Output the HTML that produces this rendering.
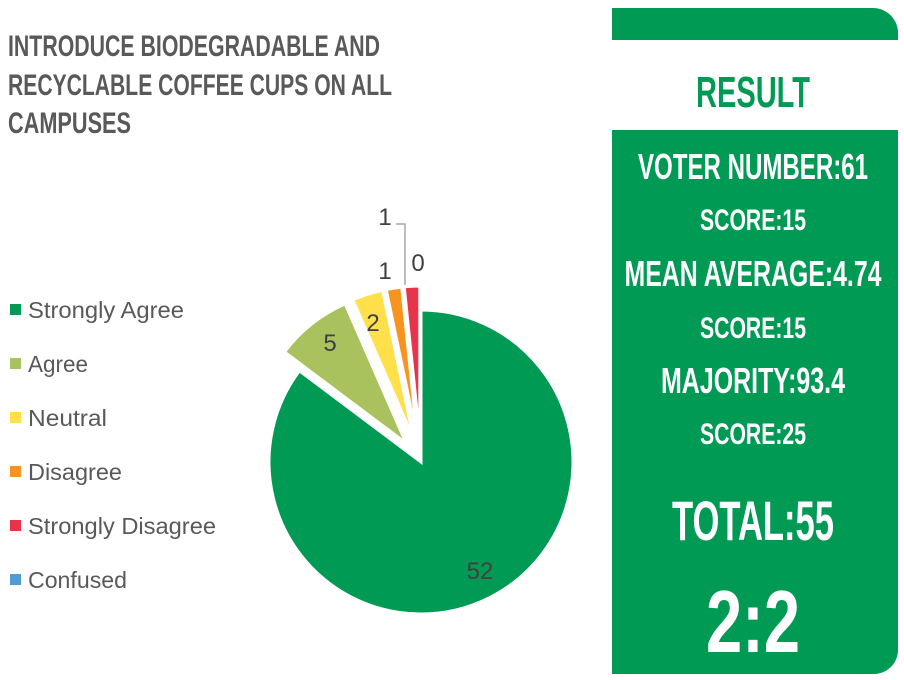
<!DOCTYPE html>
<html><head><meta charset="utf-8"><style>
html,body{margin:0;padding:0;background:#fff;}
svg{display:block;}
</style></head><body>
<svg width="904" height="680" viewBox="0 0 904 680" xmlns="http://www.w3.org/2000/svg">
<g font-family="Liberation Sans, sans-serif" font-weight="bold" fill="#595959" font-size="30">
<text x="8" y="56" textLength="372" lengthAdjust="spacingAndGlyphs">INTRODUCE BIODEGRADABLE AND</text>
<text x="8" y="95" textLength="384" lengthAdjust="spacingAndGlyphs">RECYCLABLE COFFEE CUPS ON ALL</text>
<text x="8" y="133" textLength="123" lengthAdjust="spacingAndGlyphs">CAMPUSES</text>
</g>
<g font-family="Liberation Sans, sans-serif" font-size="23" fill="#595959">
<rect x="10" y="304" width="11" height="11" fill="#009A55"/><text x="28" y="318" textLength="156" lengthAdjust="spacingAndGlyphs">Strongly Agree</text>
<rect x="10" y="358" width="11" height="11" fill="#A9C25D"/><text x="28" y="372" textLength="60" lengthAdjust="spacingAndGlyphs">Agree</text>
<rect x="10" y="412" width="11" height="11" fill="#FFE04B"/><text x="28" y="426" textLength="79" lengthAdjust="spacingAndGlyphs">Neutral</text>
<rect x="10" y="466" width="11" height="11" fill="#F7941D"/><text x="28" y="480" textLength="94" lengthAdjust="spacingAndGlyphs">Disagree</text>
<rect x="10" y="520" width="11" height="11" fill="#E8344A"/><text x="28" y="534" textLength="188" lengthAdjust="spacingAndGlyphs">Strongly Disagree</text>
<rect x="10" y="574" width="11" height="11" fill="#4E9BD5"/><text x="28" y="588" textLength="99" lengthAdjust="spacingAndGlyphs">Confused</text>
</g>
<g stroke="#fff" stroke-width="3" stroke-linejoin="miter">
<path d="M421,462 L421,310 A152,152 0 1 1 299.4,370.8 Z" fill="#009A55"/>
<path d="M406.1,443.2 L284.5,352.0 A152,152 0 0 1 345.2,303.9 Z" fill="#A9C25D"/>
<path d="M413.7,439.1 L352.8,299.8 A152,152 0 0 1 382.6,290.3 Z" fill="#FFE04B"/>
<path d="M417.3,438.3 L386.2,289.5 A152,152 0 0 1 401.7,287.1 Z" fill="#F7941D"/>
<path d="M419.8,438 L404.2,286.8 A152,152 0 0 1 419.8,286 Z" fill="#E8344A"/>
</g>
<polyline points="405,285 405,224 396,224" fill="none" stroke="#a6a6a6" stroke-width="1.5"/>
<g font-family="Liberation Sans, sans-serif" font-size="24" fill="#404040">
<text x="480" y="579" text-anchor="middle">52</text>
<text x="330" y="351" text-anchor="middle">5</text>
<text x="373" y="331" text-anchor="middle">2</text>
<text x="385" y="279" text-anchor="middle">1</text>
<text x="385" y="225" text-anchor="middle">1</text>
<text x="418" y="271" text-anchor="middle">0</text>
</g>
<path d="M612,8 H873 A25,25 0 0 1 898,33 V40 H612 Z" fill="#009A55"/>
<path d="M612,130 H898 V650 A24,24 0 0 1 874,674 H612 Z" fill="#009A55"/>
<g font-family="Liberation Sans, sans-serif" font-weight="bold" text-anchor="middle">
<text x="753" y="107" font-size="44" fill="#009A55" textLength="114" lengthAdjust="spacingAndGlyphs">RESULT</text>
<g fill="#fff">
<text x="753" y="179" font-size="36" textLength="230" lengthAdjust="spacingAndGlyphs">VOTER NUMBER:61</text>
<text x="753" y="230" font-size="30" textLength="106" lengthAdjust="spacingAndGlyphs">SCORE:15</text>
<text x="753" y="286" font-size="36" textLength="257" lengthAdjust="spacingAndGlyphs">MEAN AVERAGE:4.74</text>
<text x="753" y="338" font-size="30" textLength="106" lengthAdjust="spacingAndGlyphs">SCORE:15</text>
<text x="753" y="393" font-size="36" textLength="184" lengthAdjust="spacingAndGlyphs">MAJORITY:93.4</text>
<text x="753" y="444" font-size="30" textLength="106" lengthAdjust="spacingAndGlyphs">SCORE:25</text>
<text x="753" y="540" font-size="56" textLength="162" lengthAdjust="spacingAndGlyphs">TOTAL:55</text>
<text x="753" y="652" font-size="88" textLength="94" lengthAdjust="spacingAndGlyphs">2:2</text>
</g></g>
</svg>
</body></html>
